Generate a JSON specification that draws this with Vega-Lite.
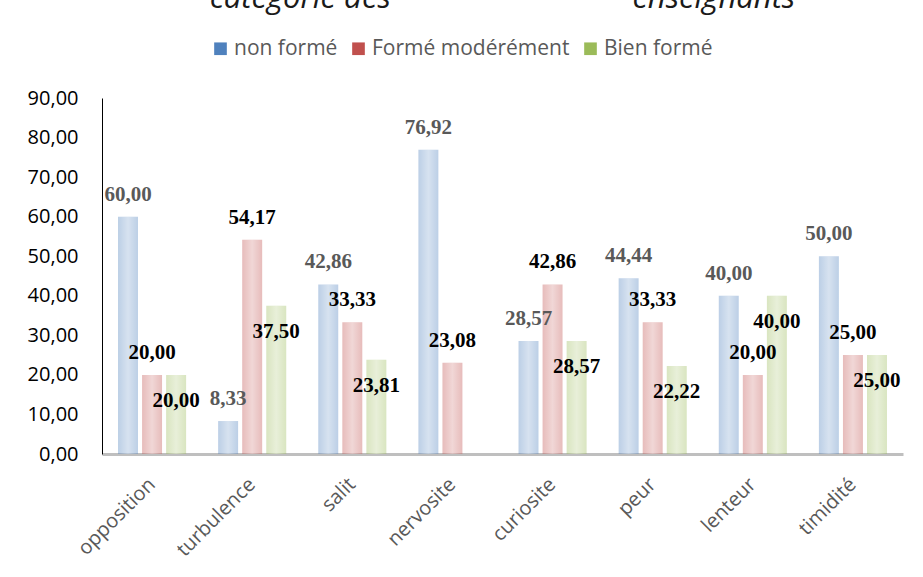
{
  "$schema": "https://vega.github.io/schema/vega-lite/v6.json",
  "width": 801,
  "height": 356,
  "autosize": {"type": "none"},
  "padding": {"left": 102, "top": 98, "right": 20, "bottom": 123},
  "background": "white",
  "title": {
    "text": "catégorie des\u00a0\u00a0\u00a0\u00a0\u00a0\u00a0\u00a0\u00a0\u00a0\u00a0\u00a0\u00a0\u00a0\u00a0\u00a0\u00a0\u00a0\u00a0\u00a0\u00a0\u00a0\u00a0\u00a0\u00a0\u00a0\u00a0\u00a0\u00a0\u00a0\u00a0enseignants",
    "font": "Open Sans",
    "fontSize": 31,
    "fontStyle": "italic",
    "fontWeight": "normal",
    "color": "#1a1a1a",
    "anchor": "middle",
    "dy": -19
  },
  "config": {
    "view": {"stroke": null},
    "locale": {"number": {"decimal": ",", "thousands": " ", "grouping": [3], "currency": ["", " €"]}}
  },
  "data": {
    "values": [
      {"cat": "opposition", "serie": "non formé", "v": 60},
      {"cat": "opposition", "serie": "Formé modérément", "v": 20},
      {"cat": "opposition", "serie": "Bien formé", "v": 20},
      {"cat": "turbulence", "serie": "non formé", "v": 8.33},
      {"cat": "turbulence", "serie": "Formé modérément", "v": 54.17},
      {"cat": "turbulence", "serie": "Bien formé", "v": 37.5},
      {"cat": "salit", "serie": "non formé", "v": 42.86},
      {"cat": "salit", "serie": "Formé modérément", "v": 33.33},
      {"cat": "salit", "serie": "Bien formé", "v": 23.81},
      {"cat": "nervosite", "serie": "non formé", "v": 76.92},
      {"cat": "nervosite", "serie": "Formé modérément", "v": 23.08},
      {"cat": "curiosite", "serie": "non formé", "v": 28.57},
      {"cat": "curiosite", "serie": "Formé modérément", "v": 42.86},
      {"cat": "curiosite", "serie": "Bien formé", "v": 28.57},
      {"cat": "peur", "serie": "non formé", "v": 44.44},
      {"cat": "peur", "serie": "Formé modérément", "v": 33.33},
      {"cat": "peur", "serie": "Bien formé", "v": 22.22},
      {"cat": "lenteur", "serie": "non formé", "v": 40},
      {"cat": "lenteur", "serie": "Formé modérément", "v": 20},
      {"cat": "lenteur", "serie": "Bien formé", "v": 40},
      {"cat": "timidité", "serie": "non formé", "v": 50},
      {"cat": "timidité", "serie": "Formé modérément", "v": 25},
      {"cat": "timidité", "serie": "Bien formé", "v": 25}
    ]
  },
  "encoding": {
    "x": {
      "field": "cat",
      "type": "nominal",
      "sort": null,
      "scale": {"paddingInner": 0.32, "paddingOuter": 0.16},
      "axis": {
        "title": null,
        "domainColor": "#BFBFBF",
        "domainWidth": 3,
        "ticks": false,
        "labelAngle": -45,
        "labelAlign": "right",
        "labelBaseline": "middle",
        "labelFont": "Open Sans",
        "labelFontSize": 20,
        "labelColor": "#595959",
        "labelPadding": 27
      }
    },
    "xOffset": {
      "field": "serie",
      "type": "nominal",
      "sort": ["non formé", "Formé modérément", "Bien formé"],
      "scale": {"paddingInner": 0.17, "paddingOuter": 0}
    },
    "y": {
      "field": "v",
      "type": "quantitative",
      "scale": {"domain": [0, 90]},
      "axis": {
        "title": null,
        "values": [0, 10, 20, 30, 40, 50, 60, 70, 80, 90],
        "format": ".2f",
        "grid": false,
        "ticks": false,
        "domainColor": "#000000",
        "domainWidth": 1,
        "labelFont": "Open Sans",
        "labelFontSize": 20,
        "labelColor": "#000000",
        "labelPadding": 24
      }
    }
  },
  "layer": [
    {
      "mark": {"type": "bar", "fillOpacity": 0.38, "strokeWidth": 0},
      "encoding": {
        "color": {
          "field": "serie",
          "type": "nominal",
          "scale": {
            "domain": ["non formé", "Formé modérément", "Bien formé"],
            "range": ["#4F81BD", "#C0504D", "#9BBB59"]
          },
          "legend": {
            "orient": "none",
            "direction": "horizontal",
            "legendX": 108,
            "legendY": -60,
            "title": null,
            "symbolType": "square",
            "symbolSize": 160,
            "symbolOpacity": 1,
            "symbolStrokeWidth": 0,
            "labelFont": "Open Sans",
            "labelFontSize": 21,
            "labelColor": "#595959",
            "labelLimit": 0,
            "labelOffset": 3,
            "columnPadding": 10
          }
        }
      }
    },
    {
      "mark": {
        "type": "bar",
        "fill": {
          "gradient": "linear",
          "x1": 0, "y1": 0, "x2": 1, "y2": 0,
          "stops": [
            {"offset": 0, "color": "rgba(255,255,255,0)"},
            {"offset": 0.5, "color": "rgba(255,255,255,0.4)"},
            {"offset": 1, "color": "rgba(255,255,255,0)"}
          ]
        }
      }
    },
    {
      "transform": [{"filter": "datum.serie !== 'Bien formé'"}],
      "mark": {"type": "text", "font": "Liberation Serif", "fontSize": 21, "fontWeight": "bold", "baseline": "middle", "dy": -22},
      "encoding": {
        "text": {"field": "v", "type": "quantitative", "format": ".2f"},
        "color": {"condition": {"test": "datum.serie === 'non formé'", "value": "#595959"}, "value": "#000000"}
      }
    },
    {
      "transform": [{"filter": "datum.serie === 'Bien formé'"}],
      "mark": {"type": "text", "font": "Liberation Serif", "fontSize": 21, "fontWeight": "bold", "baseline": "middle", "dy": 26, "color": "#000000"},
      "encoding": {
        "text": {"field": "v", "type": "quantitative", "format": ".2f"}
      }
    }
  ]
}
